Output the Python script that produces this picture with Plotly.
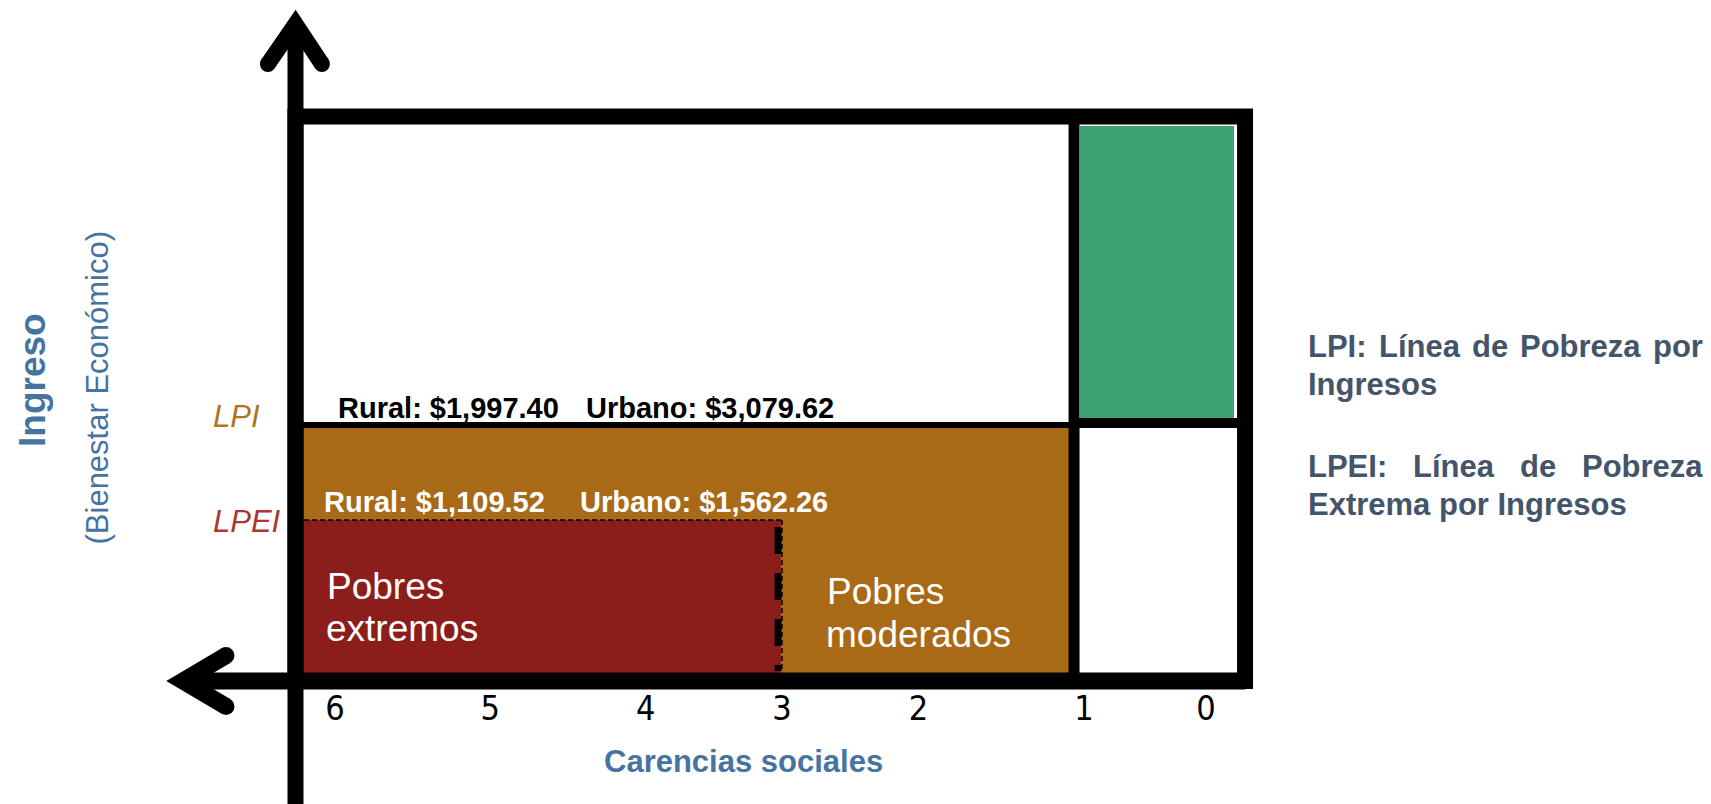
import plotly.graph_objects as go

# ---------------- data ----------------
carencias = ["6", "5", "4", "3", "2", "1", "0"]
carencias_pos = [6.0, 4.93, 3.86, 2.92, 1.98, 0.84, 0.0]   # tick positions on the diagram's carencias scale
lineas = ["LPI", "LPEI"]
rural = [1997.40, 1109.52]
urbano = [3079.62, 1562.26]
grupos = [["Pobres", "extremos"], ["Pobres", "moderados"]]
definiciones = [
    ["LPI:", "Línea", "de", "Pobreza", "por"], ["Ingresos"],
    ["LPEI:", "Línea", "de", "Pobreza"], ["Extrema por Ingresos"],
]

# ---------------- style ----------------
ORANGE = "#A86A16"
RED = "#8B1E1A"
GREEN = "#3CA170"
LPI_C = "#B07420"
LPEI_C = "#A83832"
BLUE = "#4673A0"
SLATE = "#44546A"
FONT = "Liberation Sans, Arial, sans-serif"

W, H = 1703, 796          # page body has an 8px margin
def PX(x):                # paper position from window pixel
    return (x - 8) / W
def PY(y):
    return 1 - (y - 8) / H

# diagram geometry (carencias units horizontally, relative income vertically)
X_L, X_R = 6.272, -0.269        # box left / right borders
X_DIV = 0.909                    # divider (1 carencia)
X_EXT = 2.928                    # 3 carencias edge
Y_TOP = 100
Y_LPI = 45.35
Y_LPEI = 28.52
UX, UY = 145.17, 5.645           # pixels per unit on each axis (for round line caps)

fig = go.Figure()
fig.add_trace(go.Scatter(x=[X_L], y=[0], mode="markers", marker=dict(opacity=0), hoverinfo="skip", showlegend=False))

shapes = []
# fills
shapes.append(dict(type="rect", x0=X_L, x1=X_DIV, y0=0, y1=Y_LPI, fillcolor=ORANGE, line=dict(width=0)))
shapes.append(dict(type="rect", x0=X_L, x1=X_EXT, y0=0, y1=Y_LPEI, fillcolor=RED, line=dict(width=0)))
shapes.append(dict(type="rect", x0=0.868, x1=-0.193, y0=46.59, y1=98.32, fillcolor=GREEN, line=dict(width=0)))
# dashed outline of extreme poverty
shapes.append(dict(type="line", x0=6.213, x1=X_EXT, y0=Y_LPEI, y1=Y_LPEI, line=dict(color="black", width=1.5, dash="5px,3px")))
shapes.append(dict(type="line", x0=2.921, x1=2.921, y0=Y_LPEI, y1=1.77, line=dict(color="black", width=1.5, dash="5px,3px")))
shapes.append(dict(type="line", x0=2.948, x1=2.948, y0=27.28, y1=1.77, line=dict(color="black", width=7, dash="27px,19px")))
# LPI line
shapes.append(dict(type="line", x0=X_L, x1=X_DIV, y0=Y_LPI, y1=Y_LPI, line=dict(color="black", width=6)))
shapes.append(dict(type="line", x0=X_DIV, x1=X_R, y0=45.70, y1=45.70, line=dict(color="black", width=10)))
# divider
shapes.append(dict(type="line", x0=X_DIV, x1=X_DIV, y0=0, y1=Y_TOP, line=dict(color="black", width=11)))
# box
shapes.append(dict(type="rect", x0=X_L, x1=X_R, y0=0, y1=Y_TOP, fillcolor="rgba(0,0,0,0)", line=dict(color="black", width=16)))
# vertical axis + arrow
shapes.append(dict(type="line", x0=X_L, x1=X_L, y0=-25, y1=116.39, line=dict(color="black", width=16)))
shapes.append(dict(type="path", path=f"M 6.462,109.30 L {X_L},116.39 L 6.090,109.30",
                   fillcolor="rgba(0,0,0,0)", line=dict(color="black", width=16)))
# horizontal axis + arrow
shapes.append(dict(type="line", x0=7.047, x1=X_R, y0=0, y1=0, line=dict(color="black", width=17)))
shapes.append(dict(type="path", path="M 6.751,4.5 L 7.047,0 L 6.751,-4.5",
                   fillcolor="rgba(0,0,0,0)", line=dict(color="black", width=17)))
# round caps on arrow wings
for (cx, cy, r) in [(6.462, 109.30, 8), (6.090, 109.30, 8), (6.751, 4.5, 8.5), (6.751, -4.5, 8.5)]:
    shapes.append(dict(type="circle", x0=cx - r / UX, x1=cx + r / UX, y0=cy - r / UY, y1=cy + r / UY,
                       fillcolor="black", line=dict(width=0)))

ann = []
def A(text, x, y, size, color, bold=False, xanchor="left", xref="x", yref="y", angle=0, family=FONT):
    ann.append(dict(text=(f"<b>{text}</b>" if bold else text), x=x, y=y, xref=xref, yref=yref,
                    xanchor=xanchor, yanchor="middle", showarrow=False, textangle=angle,
                    borderpad=0, borderwidth=0, font=dict(family=family, size=size, color=color)))

# line labels
A(f"<i>{lineas[0]}</i>", 6.840, 46.77, 31, LPI_C)
A(f"<i>{lineas[1]}</i>", 6.840, 28.34, 31, LPEI_C)
# amounts
A(f"Rural: ${rural[0]:,.2f}", 5.979, 48.36, 29, "black", bold=True)
A(f"Urbano: ${urbano[0]:,.2f}", 4.271, 48.36, 29, "black", bold=True)
A(f"Rural: ${rural[1]:,.2f}", 6.076, 31.71, 29, "white", bold=True)
A(f"Urbano: ${urbano[1]:,.2f}", 4.312, 31.71, 29, "white", bold=True)
# groups
A(grupos[0][0], 6.055, 16.74, 37, "white")
A(grupos[0][1], 6.062, 9.30, 37, "white")
A(grupos[1][0], 2.611, 15.85, 37, "white")
A(grupos[1][1], 2.618, 8.24, 37, "white")

# axis titles
A("Carencias sociales", PX(743.5), PY(761.5), 31, BLUE, bold=True, xanchor="center", xref="paper", yref="paper")
A("Ingreso", PX(32), PY(380), 37, BLUE, bold=True, xanchor="center", xref="paper", yref="paper", angle=-90)
A("(Bienestar Económico)", PX(97.5), PY(388), 31, BLUE, xanchor="center", xref="paper", yref="paper", angle=-90)

# definitions (justified lines emulated word by word)
line1_x = [1308, 1379, 1472, 1520, 1653]
line3_x = [1308, 1413, 1520, 1582]
for w, px in zip(definiciones[0], line1_x):
    A(w, PX(px), PY(346), 31, SLATE, bold=True, xref="paper", yref="paper")
A(definiciones[1][0], PX(1308), PY(384), 31, SLATE, bold=True, xref="paper", yref="paper")
for w, px in zip(definiciones[2], line3_x):
    A(w, PX(px), PY(466), 31, SLATE, bold=True, xref="paper", yref="paper")
A(definiciones[3][0], PX(1308), PY(504), 31, SLATE, bold=True, xref="paper", yref="paper")

fig.update_layout(
    width=W, height=H,
    margin=dict(l=0, r=0, t=0, b=0),
    paper_bgcolor="white", plot_bgcolor="white",
    shapes=shapes, annotations=ann, showlegend=False,
    xaxis=dict(range=[8.2524, -3.4787], showgrid=False, zeroline=False, showline=False,
               tickvals=carencias_pos, ticktext=carencias, ticks="",
               tickfont=dict(family="Liberation Sans Narrow, DejaVu Sans Condensed, sans-serif", size=34, color="black"),
               anchor="free", position=PY(685), ticklabelstandoff=0, fixedrange=True),
    yaxis=dict(range=[-21.79, 119.22], visible=False, fixedrange=True),
)

fig.write_html("out.html")
